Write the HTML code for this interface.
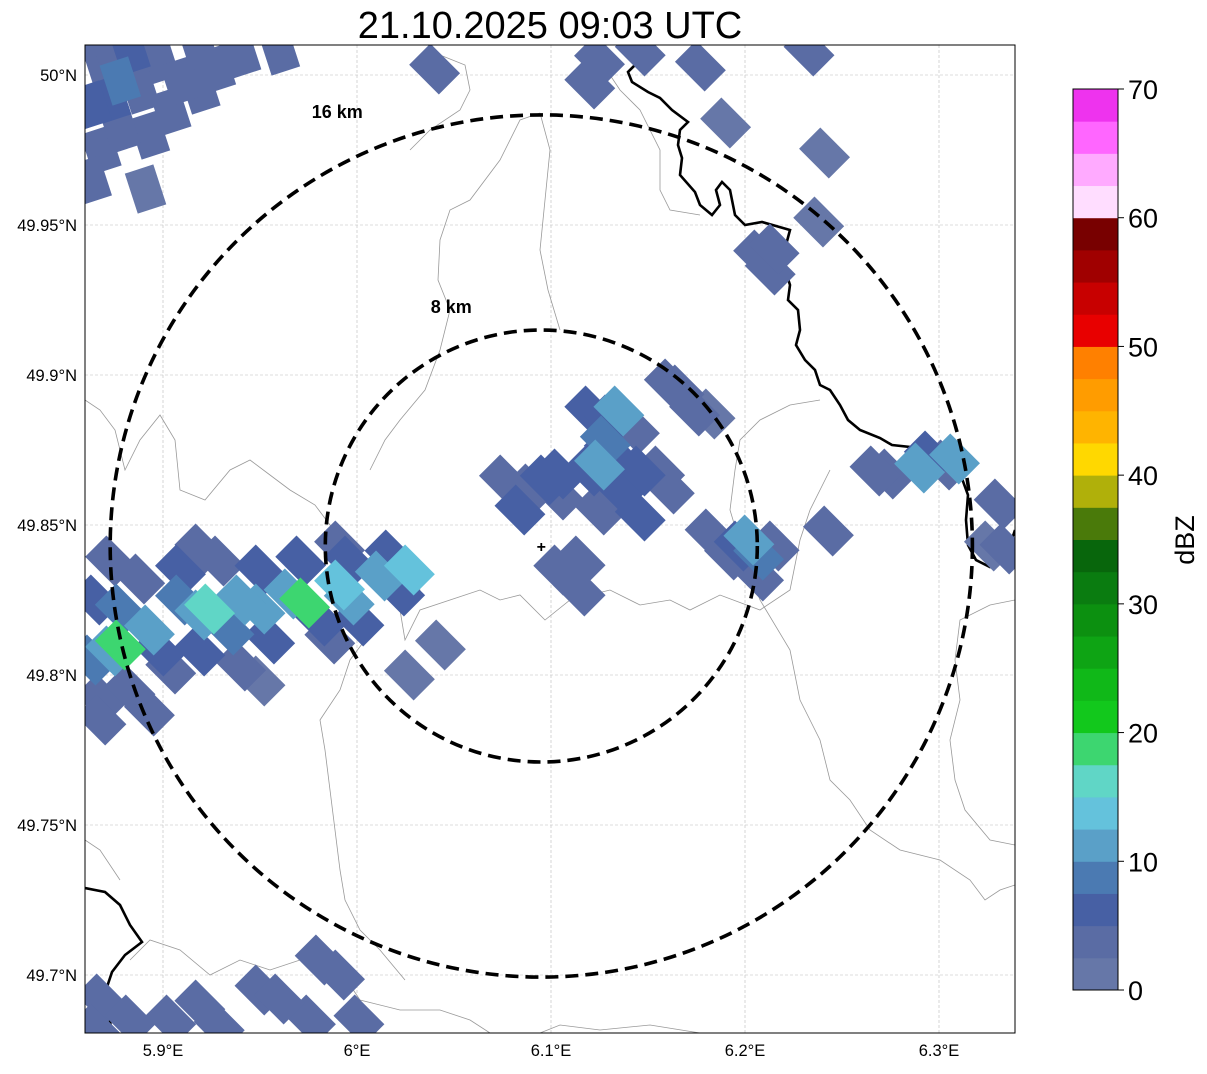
<!DOCTYPE html>
<html><head><meta charset="utf-8"><style>
body{margin:0;background:#fff;}
svg text{font-family:"Liberation Sans","DejaVu Sans",sans-serif;}
</style></head><body>
<svg id="chart" width="1207" height="1069" viewBox="0 0 1207 1069" xmlns="http://www.w3.org/2000/svg">
<defs><clipPath id="mapclip"><rect x="85" y="45" width="930" height="988"/></clipPath></defs>
<text x="550" y="38" font-size="38" text-anchor="middle">21.10.2025 09:03 UTC</text>
<g id="grid"></g>
<g id="borders" clip-path="url(#mapclip)" fill="none">
<path stroke="#999" stroke-width="0.8" d="M85,400 L100,410 L115,430 L125,470 L140,440 L160,415 L175,440 L180,490 L205,500 L230,470 L250,460 L270,475 L290,490 L315,505 L330,525 L342,545 L350,560 L380,575 L410,570 L420,590 L400,610 L405,640 L420,610 L450,600 L480,590 L500,600 L520,595 L545,620 L570,600 L610,590 L640,605 L670,600 L690,610 L720,595 L760,610 L790,590 L800,540 L810,510 L830,470"/>
<path stroke="#999" stroke-width="0.8" d="M540,113 L520,120 L500,160 L470,200 L450,210 L440,240 L438,280 L450,310 L440,350 L425,390 L400,420 L385,440 L370,470 M540,113 L550,150 L545,200 L540,250 L548,290 L560,330"/>
<path stroke="#999" stroke-width="0.8" d="M85,840 L100,850 L120,880 M130,960 L150,940 L180,950 L210,975 L240,960 L270,970 L300,960 L340,970 L360,1000 L400,1010 L440,1010 L470,1020 L490,1033 M405,980 L380,950 L360,930 L345,900 L340,870 L335,830 L330,790 L325,750 L320,720 L340,690 L350,660 L365,640"/>
<path stroke="#999" stroke-width="0.8" d="M1015,600 L990,605 L960,620 L955,660 L960,700 L950,740 L955,780 L965,810 L990,840 L1015,845 M820,400 L790,405 L760,420 L740,440 L735,470 L730,510 L745,560 L760,600 L790,650 L800,700 L820,740 L830,780 L850,800 L870,830 L900,850 L940,860 L970,880 L985,900 L1000,890 L1015,885"/>
<path stroke="#999" stroke-width="0.8" d="M440,55 L465,65 L470,90 L460,110 L430,130 L410,150 M600,60 L620,90 L640,110 L660,150 L660,190 L670,210 L700,215 M540,1033 L560,1025 L600,1030 L650,1025 L700,1033"/>
<path stroke="#000" stroke-width="2.6" d="M642,45 L638,62 L628,72 L632,82 L648,92 L660,98 L672,110 L688,122 L680,130 L678,145 L682,158 L680,175 L695,192 L700,205 L712,215 L720,205 L716,190 L722,182 L730,190 L735,215 L745,225 L762,222 L790,230 L786,245 L782,260 L790,285 L788,300 L798,310 L800,330 L796,345 L805,360 L815,370 L820,385 L830,390 L840,405 L848,420 L860,430 L880,438 L892,445 L910,447 L920,462 L945,470 L960,473 L968,495 L966,520 L968,545 L976,560 L990,567 L1005,560 L1010,545 L1015,530"/>
<path stroke="#000" stroke-width="2.6" d="M85,888 L105,892 L120,905 L130,925 L142,942 L125,955 L112,972 L106,990 L108,1010 L112,1033"/>
</g>
<g id="cells" clip-path="url(#mapclip)"></g>
<g id="rings"></g>
<rect x="85" y="45" width="930" height="988" fill="none" stroke="#000" stroke-width="1"/>
<g id="axes"></g>
<g id="cbar"></g>
<text transform="translate(1194,540) rotate(-90)" font-size="27" text-anchor="middle">dBZ</text>
</svg>
<script>
const lonTicks=[5.9,6.0,6.1,6.2,6.3];
const lonTickLabels=["5.9°E","6°E","6.1°E","6.2°E","6.3°E"];
const latTicks=[50.0,49.95,49.9,49.85,49.8,49.75,49.7];
const latTickLabels=["50°N","49.95°N","49.9°N","49.85°N","49.8°N","49.75°N","49.7°N"];
const cbarTicks=[0,10,20,30,40,50,60,70];
const cbarColors=["#6677a8","#5a6ca4","#4760a4","#4b7ab2","#5aa0c8","#64c2dc","#60d6c6","#3dd670","#12c81c","#10b818","#0ea414","#0c9010","#0a7c10","#08660c","#4a7a0a","#b0b00a","#ffd800","#ffb400","#ff9c00","#ff8000","#e80000","#c80000","#a00000","#780000","#ffddff","#ffaaff","#ff66ff","#ee33ee"];
const radarLon=6.095, radarLat=49.843;
const ringKm=[8,16];
const ringLatRadius=[0.072,0.1437];
const cellLon=[5.873,5.893,5.919,5.940,5.965,5.991,6.012,6.027,5.878,5.973,5.924,5.865,5.868,5.883,5.888,5.904,5.909,5.919,5.929,5.940,5.950,5.955,5.971,5.981,5.996,6.001,6.017,6.022,5.909,5.934,5.878,5.868,5.893,5.950,5.986,5.873,5.919,5.991,6.027,6.043,5.898,5.950,5.863,5.996,
5.868,5.883,5.898,5.919,5.940,5.960,5.873,5.888,5.904,5.878,5.868,5.891,5.919,5.927,5.863,5.878,5.893,5.909,5.863,5.873,
6.125,6.120,6.146,6.177,6.233,6.040,6.190,6.241,
6.207,6.215,6.213,6.238,6.267,6.274,6.295,6.303,6.308,6.290,6.331,6.326,6.334,6.243,
6.076,6.089,6.097,6.084,6.104,6.120,6.130,6.135,6.143,6.130,6.120,6.146,6.156,6.135,6.125,6.146,6.161,6.128,6.125,6.104,6.166,6.174,6.161,6.182,6.115,6.115,6.104,
6.182,6.192,6.202,6.207,6.215,6.207,6.197,
5.868,5.883,5.904,5.919,5.950,5.960,5.976,5.991,5.981,6.001,5.929,5.865];
const cellLat=[49.808,49.815,49.820,49.825,49.827,49.830,49.833,49.835,49.810,49.824,49.822,49.825,49.792,49.795,49.832,49.802,49.835,49.808,49.838,49.803,49.835,49.812,49.838,49.818,49.838,49.818,49.840,49.828,49.825,49.815,49.822,49.785,49.788,49.798,49.812,49.838,49.842,49.843,49.800,49.810,49.808,49.822,49.805,49.825,
50.005,50.008,50.005,50.008,50.007,50.008,49.992,49.995,49.988,49.982,49.975,49.962,49.995,50.002,49.990,49.998,49.980,49.998,49.965,50.008,
50.005,49.997,50.008,50.003,50.008,50.002,49.984,49.974,
49.940,49.942,49.935,49.951,49.868,49.867,49.873,49.870,49.872,49.869,49.857,49.843,49.842,49.848,
49.865,49.862,49.865,49.855,49.860,49.888,49.885,49.888,49.882,49.875,49.868,49.868,49.868,49.862,49.855,49.853,49.862,49.878,49.870,49.867,49.895,49.888,49.897,49.887,49.838,49.828,49.835,
49.847,49.840,49.845,49.840,49.843,49.833,49.843,
49.692,49.685,49.685,49.690,49.695,49.692,49.685,49.700,49.705,49.685,49.683,49.682];
const cellDbz=[12,12,12,11,12,13,12,13,18,18,16,5,3,4,4,3,5,6,4,3,5,6,5,7,6,5,7,6,8,9,9,3,3,2,3,3,3,4,2,2,7,10,8,10,
3,5,4,3,3,3,5,4,3,4,3,2,3,3,6,8,3,4,3,4,
3,3,3,3,3,3,2,2,
3,4,3,2,4,3,5,4,12,10,3,2,3,3,
4,4,5,6,4,5,5,12,4,6,5,6,4,5,4,5,4,9,10,5,4,3,3,2,3,3,3,
3,4,10,8,4,3,6,
3,4,3,3,3,4,3,3,3,3,3,3];

const NS='http://www.w3.org/2000/svg';
function xOf(lon){return 163+(lon-5.9)*1940;}
function yOf(lat){return 75+(50-lat)*3000;}
function mk(tag,attrs,parent){const e=document.createElementNS(NS,tag);for(const k in attrs)e.setAttribute(k,attrs[k]);parent.appendChild(e);return e;}
function colorOf(d){let i=Math.floor(d/2.5);if(i<0)i=0;if(i>=cbarColors.length)i=cbarColors.length-1;return cbarColors[i];}

const grid=document.getElementById('grid');
lonTicks.forEach(v=>{const l=mk('line',{x1:xOf(v),x2:xOf(v),y1:45,y2:1033,stroke:'#bbb','stroke-width':0.6,'stroke-dasharray':'3,2'},grid);

});
latTicks.forEach(v=>{const l=mk('line',{x1:85,x2:1015,y1:yOf(v),y2:yOf(v),stroke:'#bbb','stroke-width':0.6,'stroke-dasharray':'3,2'},grid);

});

const cells=document.getElementById('cells');
const order=cellDbz.map((d,i)=>i).sort((a,b)=>cellDbz[a]-cellDbz[b]);
order.forEach(i=>{
  const cx=xOf(cellLon[i]),cy=yOf(cellLat[i]);
  const ang=(cellLat[i]>49.95&&cellLon[i]<5.97)?72:45;
  const r=mk('rect',{x:cx-21,y:cy-15,width:42,height:30,fill:colorOf(cellDbz[i]),transform:`rotate(${ang} ${cx} ${cy})`},cells);
  
  
});

const rings=document.getElementById('rings');
const rx0=xOf(radarLon),ry0=yOf(radarLat);
const ringLabelDx=[-90,-204];
const ringLabelDy=[-17,3];
ringLatRadius.forEach((rl,i)=>{const rp=rl*3000;
  const c=mk('circle',{cx:rx0,cy:ry0,r:rp,fill:'none',stroke:'#000','stroke-width':3.6,'stroke-dasharray':'13,7'},rings);
  
  
  const t=mk('text',{x:rx0+ringLabelDx[i],y:ry0-rp+ringLabelDy[i],'font-size':18,'font-weight':'bold','text-anchor':'middle'},rings);
  t.textContent=ringKm[i]+' km';
  
  
});
const mkr=mk('text',{x:rx0,y:ry0+6,'font-size':16,'font-weight':'bold','text-anchor':'middle'},rings);
mkr.textContent='+';



const axes=document.getElementById('axes');
lonTicks.forEach((v,i)=>{const t=mk('text',{x:xOf(v),y:1056,'font-size':16.5,'text-anchor':'middle'},axes);t.textContent=lonTickLabels[i];

});
latTicks.forEach((v,i)=>{const t=mk('text',{x:77,y:yOf(v)+6,'font-size':16.5,'text-anchor':'end'},axes);t.textContent=latTickLabels[i];

});

const cb=document.getElementById('cbar');
const cbTop=89,cbBot=990,cbMax=70;
function cbY(v){return cbBot-(v/cbMax)*(cbBot-cbTop);}
cbarColors.forEach((c,i)=>{const y1=cbY((i+1)*2.5),y0=cbY(i*2.5);
  const r=mk('rect',{x:1073,y:y1,width:45,height:y0-y1+0.5,fill:c},cb);
  
  });
const fr=mk('rect',{x:1073,y:cbTop,width:45,height:cbBot-cbTop,fill:'none',stroke:'#000','stroke-width':1},cb);


cbarTicks.forEach(v=>{const l=mk('line',{x1:1118,x2:1124,y1:cbY(v),y2:cbY(v),stroke:'#000'},cb);
  
  
  const t=mk('text',{x:1128,y:cbY(v)+10,'font-size':27},cb);t.textContent=v;
  
  });
</script>
</body></html>
